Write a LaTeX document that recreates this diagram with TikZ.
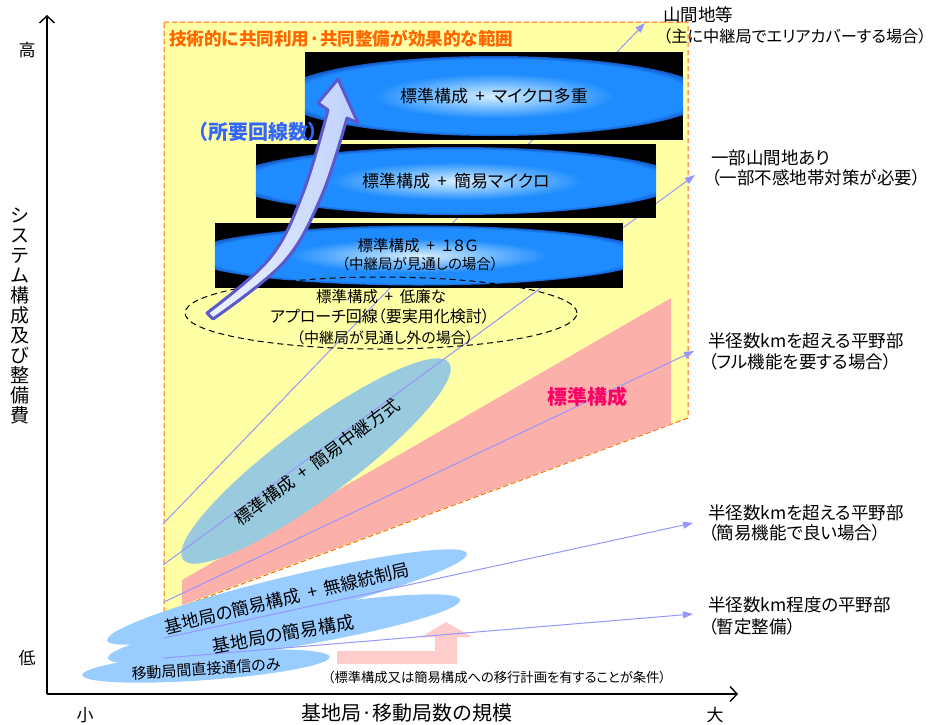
\documentclass[tikz,border=0pt]{standalone}
\usepackage{fontspec}
\setmainfont{Noto Sans CJK JP}[RawFeature={+palt}]
\usetikzlibrary{arrows.meta,shapes.geometric}
\definecolor{yel}{RGB}{255,255,165}
\definecolor{orng}{RGB}{255,102,0}
\definecolor{pinkr}{RGB}{252,176,170}
\definecolor{pinkl}{RGB}{255,204,204}
\definecolor{lblue}{RGB}{153,204,255}
\definecolor{teal2}{RGB}{153,202,222}
\definecolor{lnc}{RGB}{150,150,255}
\definecolor{arrc}{RGB}{90,90,205}
\definecolor{arrf1}{RGB}{238,244,255}
\definecolor{arrf2}{RGB}{190,208,252}
\definecolor{magc}{RGB}{255,0,102}
\definecolor{bluet}{RGB}{51,102,255}
\definecolor{ga}{RGB}{215,238,255}
\definecolor{gb}{RGB}{125,192,255}
\definecolor{gc}{RGB}{30,140,255}
\definecolor{gd}{RGB}{20,90,200}
\pgfdeclareradialshading{glowsh}{\pgfpoint{0bp}{0bp}}{color(0bp)=(ga); color(7bp)=(gb); color(14bp)=(gc); color(23bp)=(gc); color(25bp)=(gd); color(50bp)=(black)}
\newcommand{\jfs}[1]{\fontsize{#1}{#1}\selectfont}
\newcommand{\jplus}{\hspace{0.2em} + \hspace{0.2em}}
\begin{document}
\begin{tikzpicture}[x=1pt,y=-1pt,
  conn/.style={draw=lnc, line width=1pt, -{Triangle[length=10pt,width=7pt]}},
  lbl/.style={anchor=west, inner sep=0pt, font=\jfs{17.5}},
  boxtxt/.style={inner sep=0pt, font=\jfs{17}},
  axis/.style={line width=1.4pt, -{Straight Barb[length=7pt,width=15pt]}},
  blueell/.style={ellipse, fill=lblue, inner sep=0pt},
  blackbox/.style={fill=black, inner sep=0pt}]
\useasboundingbox (0,0) rectangle (944,724);
% effective range
\filldraw[fill=yel, draw=orng, dash pattern=on 5pt off 3pt, line width=1pt]
  (164,22) -- (688,22) -- (688,418) -- (164,613) -- cycle;
\node[anchor=west, inner sep=0pt, text=orng, font=\bfseries\jfs{17.6}] (title) at (169,39) {技術的に共同利用·共同整備が効果的な範囲};
% standard config band
\fill[pinkr] (182,580) -- (671,298) -- (671,424) -- (182,605) -- cycle;
% ellipses
\node[ellipse, fill=teal2, inner sep=0pt, minimum width=331pt, minimum height=72pt, rotate=36.5] (relay) at (316,461) {};
\node[blueell, minimum width=370pt, minimum height=40pt, rotate=13.6] (e2) at (287,597) {};
\node[blueell, minimum width=357pt, minimum height=38pt, rotate=9.4] (e3) at (284,629) {};
\node[blueell, minimum width=248pt, minimum height=28pt, rotate=4.2] (e4) at (206,666) {};
% pink L arrow
\fill[pinkl] (337,651) -- (435,651) -- (435,637) -- (421,637) -- (446,622) -- (472,637) -- (457,637) -- (457,664) -- (337,664) -- cycle;
% connectors
\coordinate (a0) at (163,524); \coordinate (a1) at (645,23);
\coordinate (b0) at (163,565); \coordinate (b1) at (695,175);
\coordinate (c0) at (164,602); \coordinate (c1) at (694,351);
\coordinate (d0) at (164,638); \coordinate (d1) at (693,523);
\coordinate (f0) at (164,658); \coordinate (f1) at (693,614);
\draw[conn] (a0) -- (a1);
\draw[conn] (b0) -- (b1);
\draw[conn] (c0) -- (c1);
\draw[conn] (d0) -- (d1);
\draw[conn] (f0) -- (f1);
% glow boxes
\node[blackbox, minimum width=378pt, minimum height=88pt] (bx1) at (494,96) {};
\begin{scope}
  \clip (bx1.south west) rectangle (bx1.north east);
  \shade[shading=glowsh] (bx1.center) ellipse [x radius=215, y radius=40];
\end{scope}
\node[boxtxt] (bx1t) at (bx1.center) {標準構成\jplus マイクロ多重};
\node[blackbox, minimum width=400pt, minimum height=74pt] (bx2) at (456,181) {};
\begin{scope}
  \clip (bx2.south west) rectangle (bx2.north east);
  \shade[shading=glowsh] (bx2.center) ellipse [x radius=226, y radius=34];
\end{scope}
\node[boxtxt] (bx2t) at (bx2.center) {標準構成\jplus 簡易マイクロ};
\node[blackbox, minimum width=408pt, minimum height=65pt] (bx3) at (419,255.5) {};
\begin{scope}
  \clip (bx3.south west) rectangle (bx3.north east);
  \shade[shading=glowsh] (bx3.center) ellipse [x radius=232, y radius=30];
\end{scope}
\node[inner sep=0pt, font=\jfs{15.5}] (bx3t) at (418,246) {標準構成\jplus １８Ｇ};
\node[inner sep=0pt, font=\jfs{14.5}] (bx3s) at (420,264) {（中継局が見通しの場合）};
% dashed ellipse
\node[ellipse, draw, dash pattern=on 6pt off 4pt, line width=1pt, inner sep=0pt, minimum width=392pt, minimum height=72pt] (low) at (381,313) {};
\node[inner sep=0pt, font=\jfs{15.5}] (low1) at (381,297) {標準構成\jplus 低廉な};
\node[inner sep=0pt, font=\jfs{16}] (low2) at (380,316) {アプローチ回線（要実用化検討）};
\node[inner sep=0pt, font=\jfs{15}] (low3) at (385,338) {（中継局が見通し外の場合）};
% required lines arrow
\path[draw=arrc, line width=3pt, line join=round, left color=arrf1, right color=arrf2]
  plot[smooth, tension=0.6] coordinates {(207,313) (270,258) (303,193) (328,110)}
  -- (318,103) -- (338,79) -- (358,123) -- (347,118)
  -- plot[smooth, tension=0.6] coordinates {(347,118) (322,195) (284,262) (213,319)}
  -- cycle;
\node[inner sep=0pt, text=bluet, font=\bfseries\jfs{20}] (req) at (258,132) {（所要回線数）};
% ellipse texts
\node[inner sep=0pt, rotate=36.5, font=\jfs{17.5}] (relayt) at (317,462) {標準構成\jplus 簡易中継方式};
\node[inner sep=0pt, rotate=13.6, font=\jfs{17.5}] (e2t) at (287,598) {基地局の簡易構成\jplus 無線統制局};
\node[inner sep=0pt, rotate=10, font=\jfs{18}] (e3t) at (283,634) {基地局の簡易構成};
\node[inner sep=0pt, rotate=4, font=\jfs{15}] (e4t) at (206,669) {移動局間直接通信のみ};
\node[inner sep=0pt, text=magc, font=\bfseries\jfs{20}] (std) at (587,397) {標準構成};
% right labels
\node[lbl] (r1a) at (663,15) {山間地等};
\node[lbl, font=\jfs{16.2}] (r1b) at (663,36) {（主に中継局でエリアカバーする場合）};
\node[lbl] (r2a) at (711,158) {一部山間地あり};
\node[lbl] (r2b) at (711,178) {（一部不感地帯対策が必要）};
\node[lbl] (r3a) at (708,341) {半径数kmを超える平野部};
\node[lbl] (r3b) at (708,362) {（フル機能を要する場合）};
\node[lbl] (r4a) at (708,513) {半径数kmを超える平野部};
\node[lbl] (r4b) at (708,533) {（簡易機能で良い場合）};
\node[lbl] (r5a) at (708,605) {半径数km程度の平野部};
\node[lbl] (r5b) at (708,627) {（暫定整備）};
\node[inner sep=0pt, font=\jfs{13.3}] (note) at (497,677) {（標準構成又は簡易構成への移行計画を有することが条件）};
% axes
\coordinate (O) at (47,694);
\coordinate (ytop) at (47,15);
\coordinate (xend) at (738,694);
\draw[axis] (O) -- (ytop);
\draw[axis] (O) -- (xend);
\node[inner sep=0pt, font=\jfs{17}] (hi) at (27,50) {高};
\node[inner sep=0pt, font=\jfs{17}] (lo) at (27,658) {低};
\node[inner sep=0pt, font=\jfs{17}] (sm) at (85,715) {小};
\node[inner sep=0pt, font=\jfs{17}] (lg) at (715,715) {大};
\node[inner sep=0pt, align=center, font=\fontsize{19}{20}\selectfont] (ylab) at (20,316) {シ\\ス\\テ\\ム\\構\\成\\及\\び\\整\\備\\費};
\node[inner sep=0pt, font=\jfs{20}] (xlab) at (407,713) {基地局·移動局数の規模};
\end{tikzpicture}
\end{document}
